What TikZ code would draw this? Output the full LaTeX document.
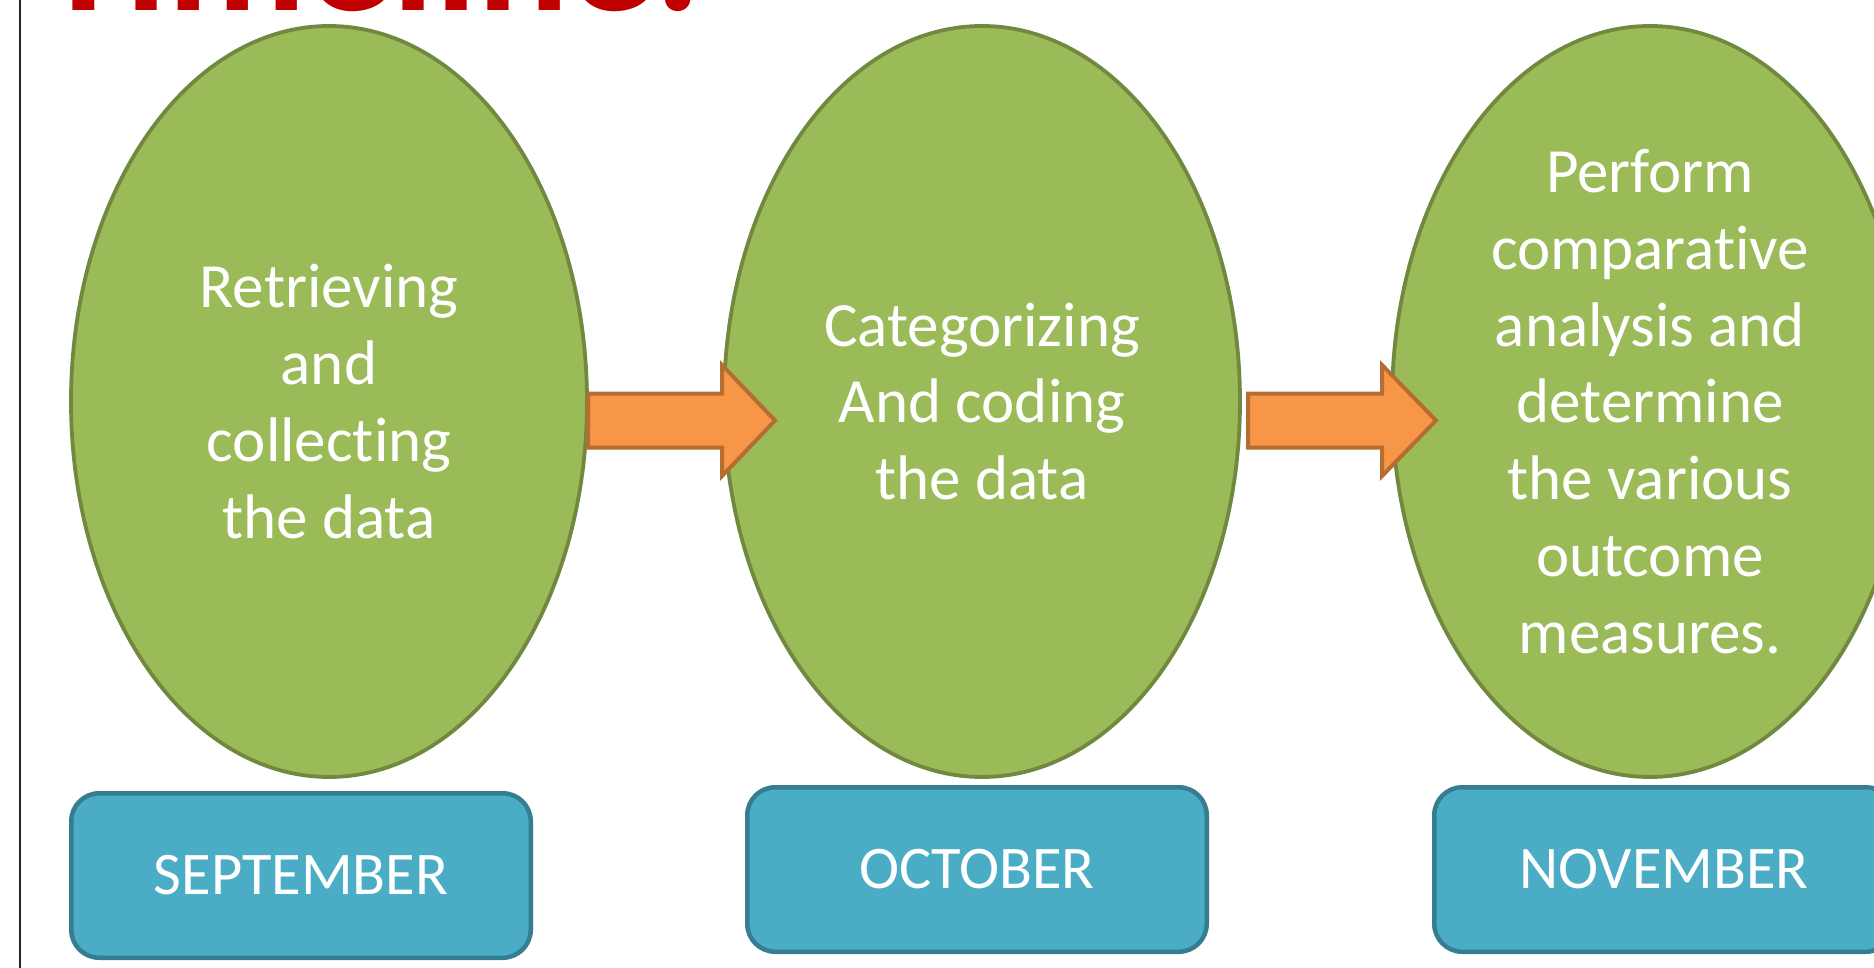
\documentclass[tikz,border=0pt]{standalone}
\usepackage{fontspec}
\setmainfont{Carlito}[Ligatures=NoCommon]
\usetikzlibrary{shapes.geometric}
\definecolor{ellfill}{HTML}{9BBB59}
\definecolor{elldraw}{HTML}{71893F}
\definecolor{boxfill}{HTML}{4BACC6}
\definecolor{boxdraw}{HTML}{357D91}
\definecolor{arrfill}{HTML}{F79646}
\definecolor{arrdraw}{HTML}{B66D31}
\definecolor{titlered}{HTML}{C00000}
\begin{document}
\begin{tikzpicture}[x=1pt,y=-1pt,
  stage/.style={ellipse, draw=elldraw, fill=ellfill, line width=3.8pt,
    minimum width=516pt, minimum height=751pt, inner sep=0pt},
  stagetext/.style={text=white, align=center, inner sep=0pt,
    font=\fontsize{63}{76.8}\selectfont},
  month/.style={rectangle, rounded corners=28pt, draw=boxdraw, fill=boxfill,
    line width=4.5pt, minimum width=459.5pt, minimum height=164.5pt,
    inner sep=0pt, text=white, font=\fontsize{60.5}{72}\selectfont},
  blockarrow/.style={draw=arrdraw, fill=arrfill, line width=4pt, line join=miter},
  frameline/.style={line width=1.6pt, draw=black!85}]
\useasboundingbox (0,0) rectangle (1874,968);
\clip (0,0) rectangle (1874,968);
\fill[white] (0,0) rectangle (1874,968);
% title (cut off at the top)
\node[anchor=base west, inner sep=0pt, text=titlered,
  font=\fontsize{171}{171}\selectfont\bfseries] (title) at (41,11) {Timeline:};
% left frame line
\coordinate (ftop) at (20,0);
\coordinate (fbot) at (20,968);
\draw[frameline] (ftop) -- (fbot);
% stages
\node[stage] (e1) at (329,401.5) {};
\node[stage] (e2) at (982,401.5) {};
\node[stage] (e3) at (1650,401.5) {};
\node[stagetext] (t1) at (e1.center) {Retrieving\\and\\collecting\\the data};
\node[stagetext] (t2) at (e2.center) {Categorizing\\And coding\\the data};
\node[stagetext] (t3) at (e3.center) {Perform\\comparative\\analysis and\\determine\\the various\\outcome\\measures.};
% arrows
\draw[blockarrow] (588,393.5) -- (722,393.5) -- (722,365) -- (775,420.5)
  -- (722,476) -- (722,447.5) -- (588,447.5) -- cycle;
\draw[blockarrow] (1248,393.5) -- (1382,393.5) -- (1382,365) -- (1436,420.5)
  -- (1382,476) -- (1382,447.5) -- (1248,447.5) -- cycle;
% months
\node[month] (m1) at (301,875.5) {SEPTEMBER};
\node[month] (m2) at (977,869.5) {OCTOBER};
\node[month] (m3) at (1664,869.5) {NOVEMBER};
\end{tikzpicture}
\end{document}
